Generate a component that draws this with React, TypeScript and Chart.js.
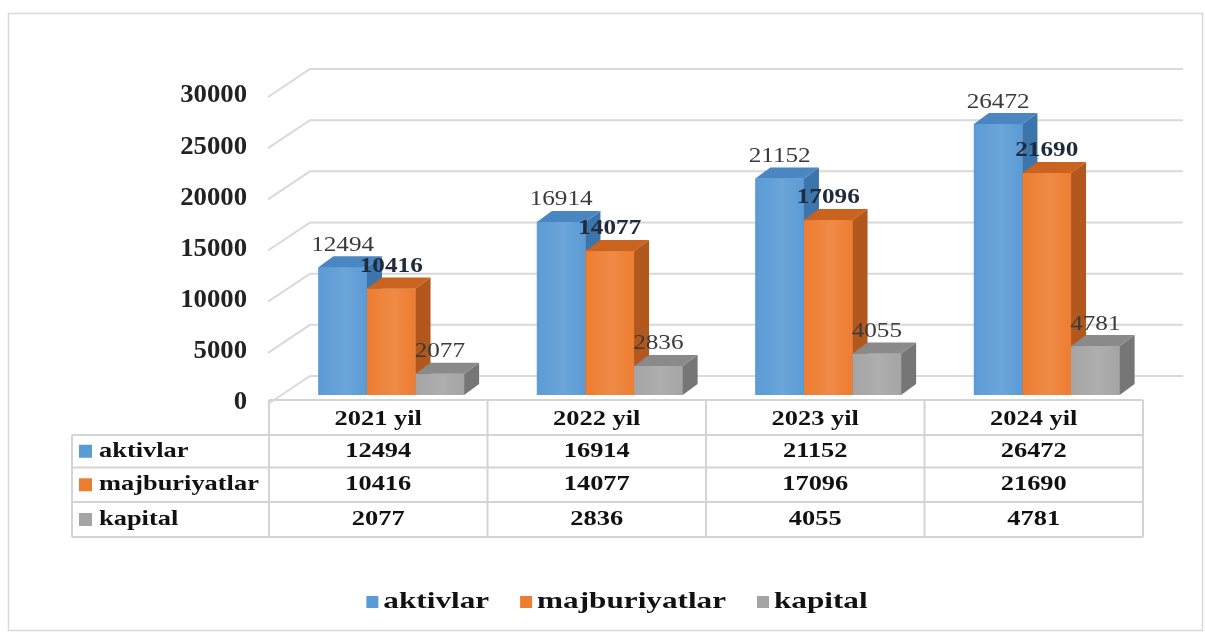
import React, { useEffect, useRef } from "react";
import { Chart, registerables } from "chart.js";

Chart.register(...registerables);

const categories = ["2021 yil", "2022 yil", "2023 yil", "2024 yil"];
const seriesNames = ["aktivlar", "majburiyatlar", "kapital"];
const aktivlar = [12494, 16914, 21152, 26472];
const majburiyatlar = [10416, 14077, 17096, 21690];
const kapital = [2077, 2836, 4055, 4781];
const yTicks = [0, 5000, 10000, 15000, 20000, 25000, 30000];

const frontColors = ["#5B9BD5", "#ED7D31", "#A5A5A5"];
const sideColors = ["#3C74AC", "#B2581C", "#767676"];
const topColors = ["#4A86C2", "#C9631F", "#8A8A8A"];
const labelBold = [false, true, false];

const SERIF = '"Liberation Serif", "Times New Roman", serif';
const DX = 15;
const DY = -11;

function drawText(
  ctx: CanvasRenderingContext2D,
  text: string,
  x: number,
  y: number,
  font: string,
  color: string,
  align: CanvasTextAlign,
  sx: number
) {
  ctx.save();
  ctx.translate(x, y);
  ctx.scale(sx, 1);
  ctx.font = font;
  ctx.fillStyle = color;
  ctx.textAlign = align;
  ctx.textBaseline = "middle";
  ctx.fillText(text, 0, 0);
  ctx.restore();
}

function textWidth(ctx: CanvasRenderingContext2D, text: string, font: string, sx: number) {
  ctx.save();
  ctx.font = font;
  const w = ctx.measureText(text).width * sx;
  ctx.restore();
  return w;
}

const threeDPlugin = {
  id: "threeD",
  beforeDatasetsDraw(chart: any) {
    const ctx: CanvasRenderingContext2D = chart.ctx;
    const ys = chart.scales.y;
    // outer frame
    ctx.save();
    ctx.strokeStyle = "#d9d9d9";
    ctx.lineWidth = 1.5;
    ctx.strokeRect(8.5, 13.5, 1194, 617);
    // back wall gridlines with perspective diagonals
    ctx.strokeStyle = "#d9d9d9";
    ctx.lineWidth = 2;
    const backL = 310;
    const backR = 1183;
    const frontL = 268;
    yTicks.forEach((v) => {
      const p = ys.getPixelForValue(v);
      const by = p - 19;
      const fy = p + 9;
      ctx.beginPath();
      ctx.moveTo(frontL, fy);
      ctx.lineTo(backL, by);
      ctx.lineTo(backR, by);
      ctx.stroke();
      drawText(ctx, String(v), 247, p + 8, `bold 25px ${SERIF}`, "#222222", "right", 1.07);
    });
    ctx.restore();
  },
  afterDatasetsDraw(chart: any) {
    const ctx: CanvasRenderingContext2D = chart.ctx;
    const n = chart.data.datasets.length;
    // redraw bars in left-to-right order with 3D faces
    for (let d = 0; d < n; d++) {
      const meta = chart.getDatasetMeta(d);
      meta.data.forEach((bar: any) => {
        const { x, y, base, width } = bar.getProps(["x", "y", "base", "width"], true);
        const l = x - width / 2;
        const r = x + width / 2;
        ctx.save();
        ctx.fillStyle = frontColors[d];
        ctx.fillRect(l, y, width, base - y);
        const g = ctx.createLinearGradient(l, 0, r, 0);
        g.addColorStop(0, "rgba(255,255,255,0)");
        g.addColorStop(0.55, "rgba(255,255,255,0.10)");
        g.addColorStop(1, "rgba(255,255,255,0)");
        ctx.fillStyle = g;
        ctx.fillRect(l, y, width, base - y);
        ctx.fillStyle = sideColors[d];
        ctx.beginPath();
        ctx.moveTo(r, y);
        ctx.lineTo(r + DX, y + DY);
        ctx.lineTo(r + DX, base + DY);
        ctx.lineTo(r, base);
        ctx.closePath();
        ctx.fill();
        ctx.fillStyle = topColors[d];
        ctx.beginPath();
        ctx.moveTo(l, y);
        ctx.lineTo(l + DX, y + DY);
        ctx.lineTo(r + DX, y + DY);
        ctx.lineTo(r, y);
        ctx.closePath();
        ctx.fill();
        ctx.restore();
      });
    }
    // data labels
    for (let d = 0; d < n; d++) {
      const meta = chart.getDatasetMeta(d);
      const values = chart.data.datasets[d].data as number[];
      meta.data.forEach((bar: any, i: number) => {
        const { x, y } = bar.getProps(["x", "y"], true);
        const font = `${labelBold[d] ? "bold " : ""}21px ${SERIF}`;
        drawText(ctx, String(values[i]), x, y - 22, font, labelBold[d] ? "#1f2a3a" : "#3a3a3a", "center", 1.2);
      });
    }
  },
  afterDraw(chart: any) {
    const ctx: CanvasRenderingContext2D = chart.ctx;
    const xs = chart.scales.x;
    const n = categories.length;
    const catW = (chart.chartArea.right - chart.chartArea.left) / n;
    const centers = categories.map((_, i) => xs.getPixelForValue(i) - 13);
    const bounds = [centers[0] - catW / 2, ...centers.map((c) => c + catW / 2)];
    const tableL = 72;
    const headerTop = 400;
    const rowLines = [435, 467.5, 502, 537];
    const right = bounds[bounds.length - 1];
    ctx.save();
    ctx.strokeStyle = "#d4d4d4";
    ctx.lineWidth = 2;
    ctx.beginPath();
    ctx.moveTo(bounds[0], headerTop);
    ctx.lineTo(right, headerTop);
    rowLines.forEach((yy) => {
      ctx.moveTo(tableL, yy);
      ctx.lineTo(right, yy);
    });
    bounds.forEach((bx) => {
      ctx.moveTo(bx, headerTop);
      ctx.lineTo(bx, rowLines[rowLines.length - 1]);
    });
    ctx.moveTo(tableL, rowLines[0]);
    ctx.lineTo(tableL, rowLines[rowLines.length - 1]);
    ctx.stroke();
    ctx.restore();

    const tFont = `bold 22px ${SERIF}`;
    categories.forEach((c, i) => {
      drawText(ctx, c, centers[i], 419, tFont, "#111111", "center", 1.2);
    });
    const datasets = chart.data.datasets;
    datasets.forEach((ds: any, d: number) => {
      const cy = (rowLines[d] + rowLines[d + 1]) / 2;
      ctx.fillStyle = frontColors[d];
      ctx.fillRect(79, cy - 6.5, 13, 13);
      drawText(ctx, seriesNames[d], 99, cy, tFont, "#111111", "left", 1.2);
      (ds.data as number[]).forEach((v, i) => {
        drawText(ctx, String(v), centers[i], cy, tFont, "#111111", "center", 1.2);
      });
    });

    // legend
    const lFont = `bold 24px ${SERIF}`;
    const lsx = 1.3;
    const sq = 12;
    const gap = 5;
    const spacing = 31;
    const widths = seriesNames.map((s) => sq + gap + textWidth(ctx, s, lFont, lsx));
    const total = widths.reduce((a, b) => a + b, 0) + spacing * (widths.length - 1);
    let lx = 617 - total / 2;
    const ly = 602;
    seriesNames.forEach((s, d) => {
      ctx.fillStyle = frontColors[d];
      ctx.fillRect(lx, ly - sq / 2, sq, sq);
      drawText(ctx, s, lx + sq + gap, ly, lFont, "#111111", "left", lsx);
      lx += widths[d] + spacing;
    });
  },
};

export default function App() {
  const ref = useRef<HTMLCanvasElement | null>(null);
  useEffect(() => {
    if (!ref.current) return;
    const chart = new Chart(ref.current, {
      type: "bar",
      data: {
        labels: categories,
        datasets: [
          { label: seriesNames[0], data: aktivlar, backgroundColor: frontColors[0] },
          { label: seriesNames[1], data: majburiyatlar, backgroundColor: frontColors[1] },
          { label: seriesNames[2], data: kapital, backgroundColor: frontColors[2] },
        ],
      },
      options: {
        responsive: false,
        maintainAspectRatio: false,
        devicePixelRatio: 1,
        animation: false,
        layout: { padding: { left: 282, right: 49, top: 88, bottom: 238 } },
        datasets: { bar: { categoryPercentage: 0.667, barPercentage: 1.0 } },
        scales: {
          x: { display: false, offset: true },
          y: { display: false, min: 0, max: 30000 },
        },
        plugins: {
          legend: { display: false },
          tooltip: { enabled: false },
          title: { display: false },
        },
      },
      plugins: [threeDPlugin],
    });
    return () => chart.destroy();
  }, []);
  return (
    <div style={{ position: "absolute", left: 0, top: 0, width: 1205, height: 633, background: "#ffffff" }}>
      <canvas ref={ref} width={1205} height={633} style={{ display: "block" }} />
    </div>
  );
}
